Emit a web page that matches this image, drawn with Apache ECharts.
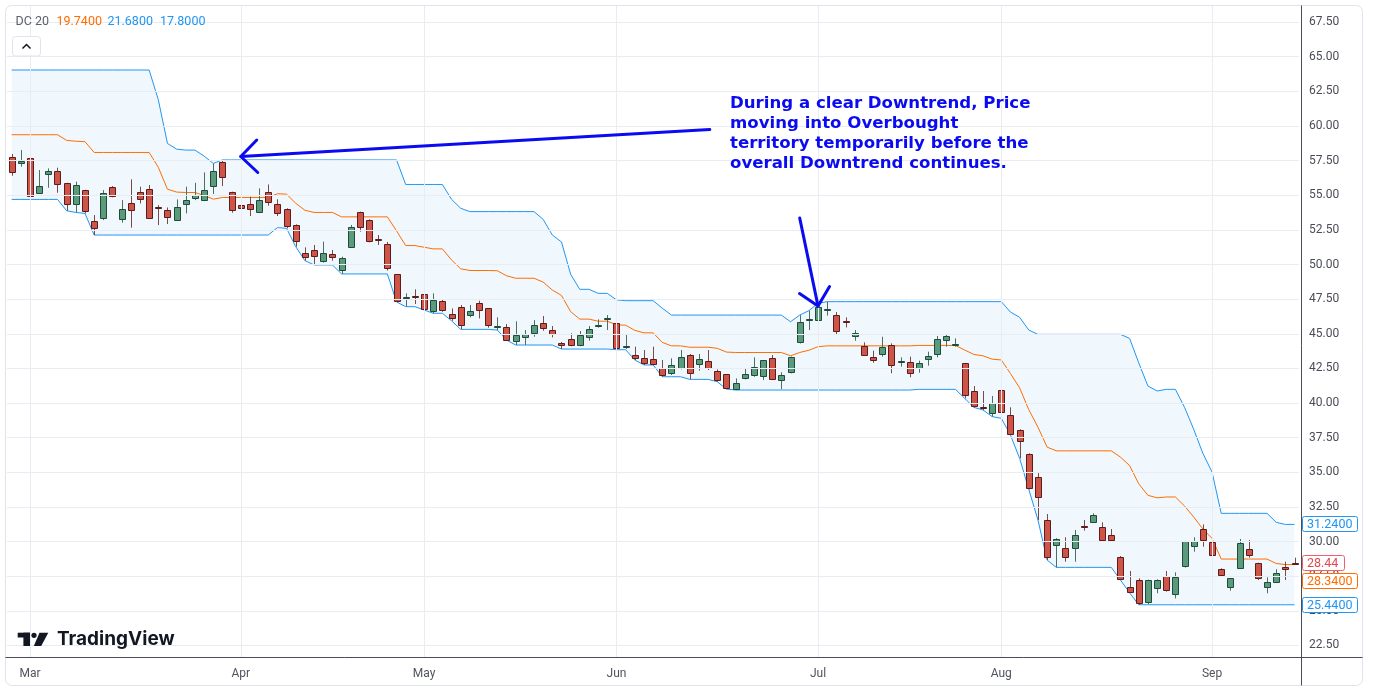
<!DOCTYPE html>
<html><head><meta charset="utf-8">
<script src="https://cdn.jsdelivr.net/npm/echarts@6/dist/echarts.min.js"></script>
<style>html,body{margin:0;padding:0;background:#fff}#c{width:1374px;height:690px}</style>
</head><body><div id="c"></div>
<script>
// ---- data ----
const opens = [57.78,57.30,57.66,55.18,56.51,56.72,55.86,54.34,55.35,53.14,
53.33,55.57,53.26,54.41,55.21,55.47,54.17,53.91,53.21,54.34,
54.77,54.65,55.62,57.37,55.21,54.27,54.35,53.77,55.26,54.35,
53.99,52.83,50.81,51.03,50.21,50.74,49.61,51.24,53.77,53.19,
51.85,51.46,49.29,47.63,47.73,47.85,46.65,47.39,46.40,46.91,
46.33,47.20,46.83,45.51,45.51,44.45,44.74,45.03,45.75,45.25,
44.33,44.60,44.16,44.74,45.58,46.11,45.75,44.07,43.44,43.25,
43.20,42.50,42.14,42.50,43.44,42.79,43.01,42.29,42.07,40.99,
41.78,41.99,41.90,43.23,41.64,42.22,44.38,46.04,45.97,46.79,
46.33,45.90,44.84,44.14,43.30,43.52,44.19,43.01,42.94,42.51,
43.16,43.52,44.53,44.21,42.87,40.85,39.69,39.26,40.92,39.11,
38.03,36.30,34.64,31.53,29.80,29.51,29.51,31.13,31.44,31.08,
30.45,28.89,26.70,27.20,25.59,26.63,27.49,26.27,28.19,29.71,
30.89,29.95,28.00,26.68,28.07,29.44,28.43,26.70,27.11,28.16,
28.47];
const closes = [56.70,57.47,54.89,55.66,56.72,55.78,54.34,55.71,53.81,52.66,
55.13,54.89,53.98,53.91,54.70,53.40,54.12,53.40,54.12,54.65,
54.99,55.35,56.72,56.29,53.88,54.03,53.96,54.64,54.56,53.70,
52.78,51.68,50.52,50.57,50.81,50.52,50.45,52.69,52.69,51.68,
51.80,49.73,47.35,47.66,47.70,46.79,47.42,46.76,46.11,45.61,
46.62,46.71,45.61,45.53,44.60,44.89,44.96,45.61,45.39,44.96,
44.16,44.16,44.89,45.32,45.60,46.13,43.92,44.09,43.20,42.87,
42.82,41.97,42.72,43.30,42.12,43.15,42.50,41.64,41.06,41.42,
42.07,42.58,43.08,41.71,42.00,43.30,45.82,46.06,46.91,46.81,
45.15,45.88,45.03,43.49,43.11,44.02,42.72,43.03,42.15,42.87,
43.37,44.60,44.84,44.23,40.53,39.74,39.67,39.98,39.33,37.74,
37.24,33.84,33.20,28.86,30.21,28.86,30.45,31.11,31.92,30.12,
30.09,27.28,26.34,25.54,27.20,27.20,26.46,27.47,30.02,30.07,
30.07,29.01,27.59,27.35,29.87,28.98,27.35,27.06,27.76,28.00,
28.44];
const lows = [56.41,57.06,54.85,55.15,55.54,55.18,53.88,53.76,53.69,52.13,
53.21,54.85,53.02,52.66,54.41,53.33,52.85,52.92,53.15,53.69,
54.65,54.58,55.09,55.66,53.74,53.17,53.50,53.72,54.25,53.50,
52.61,51.29,50.28,49.97,50.14,50.28,49.32,51.20,52.37,51.60,
51.41,49.56,47.30,46.96,47.15,46.72,46.48,46.59,45.94,45.32,
46.19,46.11,45.44,45.27,44.55,44.19,44.19,44.79,45.22,44.74,
43.90,44.10,44.10,44.50,45.44,45.27,43.85,43.90,43.11,42.75,
42.75,41.90,42.02,42.43,41.71,42.34,42.38,41.54,41.01,40.94,
41.71,41.90,41.66,41.66,40.99,42.14,44.30,45.27,45.58,46.31,
44.91,45.46,44.50,43.42,42.91,43.35,42.15,42.63,41.86,42.19,
42.70,43.30,44.07,44.07,40.34,39.69,39.50,39.02,38.90,37.69,
36.01,33.77,31.56,28.67,28.14,28.55,28.55,30.79,31.37,30.10,
29.99,27.23,26.30,25.44,25.49,26.27,26.39,25.90,28.12,29.27,
29.63,28.96,27.47,26.46,28.05,28.84,27.23,26.27,27.06,27.23,
28.31];
const highs = [57.98,58.26,57.83,56.82,56.94,56.99,55.90,55.98,55.40,53.57,
55.37,55.66,54.65,56.15,55.62,55.74,54.29,54.12,54.70,55.62,
55.90,56.65,57.30,57.55,55.26,54.47,54.90,55.50,55.78,54.71,
54.06,52.90,51.24,51.41,51.65,51.05,50.57,52.86,53.82,53.26,
52.13,51.63,49.30,47.92,48.21,47.92,47.92,47.45,46.83,47.08,
47.08,47.39,46.85,46.19,45.70,45.90,45.27,45.99,46.28,45.56,
44.41,45.03,45.20,45.56,46.04,46.35,45.87,44.98,44.07,43.83,
44.07,43.11,43.23,43.83,43.54,43.54,43.83,42.43,42.10,41.78,
42.50,43.30,43.11,43.47,42.22,43.35,46.35,46.67,47.20,47.32,
46.57,46.19,45.27,44.38,43.78,44.79,44.31,43.30,43.35,43.06,
43.71,44.84,44.96,44.67,42.90,41.23,40.87,40.51,40.99,39.69,
38.10,36.37,35.02,31.99,30.25,30.31,30.84,31.56,32.04,31.39,
30.91,28.96,27.88,27.35,27.25,27.28,27.88,27.78,30.05,30.31,
31.24,29.99,28.07,27.35,30.19,30.11,28.48,27.42,28.00,28.55,
28.84];
// Donchian channel (20)
const dcUpper = [64.04,64.04,64.04,64.04,64.04,64.04,64.04,64.04,64.04,64.04,
64.04,64.04,64.04,64.04,64.04,64.04,61.90,58.74,58.33,58.26,
58.26,57.83,57.30,57.55,57.55,57.55,57.55,57.55,57.55,57.55,
57.55,57.55,57.55,57.55,57.55,57.55,57.55,57.55,57.55,57.55,
57.55,57.55,57.55,55.78,55.78,55.78,55.78,55.78,54.71,54.06,
53.82,53.82,53.82,53.82,53.82,53.82,53.82,53.82,53.26,52.13,
51.63,49.30,48.21,48.21,47.92,47.92,47.45,47.39,47.39,47.39,
47.39,46.85,46.35,46.35,46.35,46.35,46.35,46.35,46.35,46.35,
46.35,46.35,46.35,46.35,46.35,45.87,46.35,46.67,47.20,47.32,
47.32,47.32,47.32,47.32,47.32,47.32,47.32,47.32,47.32,47.32,
47.32,47.32,47.32,47.32,47.32,47.32,47.32,47.32,47.32,46.57,
46.19,45.27,44.96,44.96,44.96,44.96,44.96,44.96,44.96,44.96,
44.96,44.96,44.67,42.90,41.23,40.87,40.99,40.99,39.69,38.10,
36.37,35.02,32.04,32.04,32.04,32.04,32.04,32.04,31.39,31.24,
31.24];
const dcLower = [54.70,54.70,54.70,54.70,54.70,54.70,53.88,53.76,53.69,52.13,
52.13,52.13,52.13,52.13,52.13,52.13,52.13,52.13,52.13,52.13,
52.13,52.13,52.13,52.13,52.13,52.13,52.13,52.13,52.13,52.66,
52.61,51.29,50.28,49.97,49.97,49.97,49.32,49.32,49.32,49.32,
49.32,49.32,47.30,46.96,46.96,46.72,46.48,46.48,45.94,45.32,
45.32,45.32,45.32,45.27,44.55,44.19,44.19,44.19,44.19,44.19,
43.90,43.90,43.90,43.90,43.90,43.90,43.85,43.85,43.11,42.75,
42.75,41.90,41.90,41.90,41.71,41.71,41.71,41.54,41.01,40.94,
40.94,40.94,40.94,40.94,40.94,40.94,40.94,40.94,40.94,40.94,
40.94,40.94,40.94,40.94,40.94,40.94,40.94,40.94,40.94,40.99,
40.99,40.99,40.99,40.99,40.34,39.69,39.50,39.02,38.90,37.69,
36.01,33.77,31.56,28.67,28.14,28.14,28.14,28.14,28.14,28.14,
28.14,27.23,26.30,25.44,25.44,25.44,25.44,25.44,25.44,25.44,
25.44,25.44,25.44,25.44,25.44,25.44,25.44,25.44,25.44,25.44,
25.44];
const dcMiddle = [59.37,59.37,59.37,59.37,59.37,59.37,58.96,58.90,58.87,58.09,
58.09,58.09,58.09,58.09,58.09,58.09,57.02,55.44,55.23,55.20,
55.20,54.98,54.72,54.84,54.84,54.84,54.84,54.84,54.84,55.11,
55.08,54.42,53.92,53.76,53.76,53.76,53.44,53.44,53.44,53.44,
53.44,53.44,52.43,51.37,51.37,51.25,51.13,51.13,50.33,49.69,
49.57,49.57,49.57,49.55,49.19,49.01,49.01,49.01,48.73,48.16,
47.77,46.60,46.06,46.06,45.91,45.91,45.65,45.62,45.25,45.07,
45.07,44.38,44.13,44.13,44.03,44.03,44.03,43.95,43.68,43.65,
43.65,43.65,43.65,43.65,43.65,43.41,43.65,43.81,44.07,44.13,
44.13,44.13,44.13,44.13,44.13,44.13,44.13,44.13,44.13,44.16,
44.16,44.16,44.16,44.16,43.83,43.51,43.41,43.17,43.11,42.13,
41.10,39.52,38.26,36.82,36.55,36.55,36.55,36.55,36.55,36.55,
36.55,36.10,35.49,34.17,33.34,33.16,33.22,33.22,32.57,31.77,
30.91,30.23,28.74,28.74,28.74,28.74,28.74,28.74,28.42,28.34,
28.34];
const monthLabels = ['Mar','Apr','May','Jun','Jul','Aug','Sep'];
const monthStartIdx = [2, 25, 45, 66, 88, 108, 131];
const yTicks = [22.5,25,27.5,30,32.5,35,37.5,40,42.5,45,47.5,50,52.5,55,57.5,60,62.5,65,67.5];
const legendValues = ['19.7400','21.6800','17.8000'];
const annotationLines = ['During a clear Downtrend, Price','moving into Overbought','territory temporarily before the','overall Downtrend continues.'];

// ---- build ----
const categories = opens.map((_, i) => String(i));
const candleRows = opens.map((o, i) => [i, o, closes[i], lows[i], highs[i]]);
const bandWidth = dcUpper.map((u, i) => +(u - dcLower[i]).toFixed(2));

const UP_FILL = '#5b9b7c', UP_LINE = '#1f4b3a', DN_FILL = '#cd5446', DN_LINE = '#5c1c1c';
const BLUE = '#2196f3', ORANGE = '#ff6d00', GRID = '#e9ecf1';

const chart = echarts.init(document.getElementById('c'), null, {renderer: 'canvas'});

function renderCandle(params, api) {
  const i = api.value(0), o = api.value(1), c = api.value(2), lo = api.value(3), hi = api.value(4);
  const pO = api.coord([i, o]), pC = api.coord([i, c]), pL = api.coord([i, lo]), pH = api.coord([i, hi]);
  const w = Math.round(api.size([1, 0])[0] * 0.64);
  const up = c >= o;
  const rx = Math.round(pO[0] - w / 2) + 0.5;
  const cx = rx + w / 2;
  const top = Math.round(Math.min(pO[1], pC[1])) + 0.5;
  const h = Math.max(1, Math.round(Math.abs(pO[1] - pC[1])));
  return {
    type: 'group',
    children: [
      {type: 'line', shape: {x1: cx, y1: pH[1], x2: cx, y2: pL[1]}, style: {stroke: up ? '#4d6f62' : '#7a4a46', lineWidth: 1}},
      {type: 'rect', shape: {x: rx, y: top, width: w, height: h}, style: {fill: up ? UP_FILL : DN_FILL, stroke: up ? UP_LINE : DN_LINE, lineWidth: 1}}
    ]
  };
}

const gridMarks = yTicks.map(v => ({yAxis: v})).concat(monthStartIdx.map(i => ({xAxis: i})));

chart.setOption({
  animation: false,
  backgroundColor: '#ffffff',
  grid: {left: 7.1, right: 74.9, top: 5, bottom: 32.3, containLabel: false},
  xAxis: {
    type: 'category', data: categories, boundaryGap: true,
    axisLine: {show: false}, axisTick: {show: false}, splitLine: {show: false},
    axisLabel: {
      interval: (idx) => monthStartIdx.indexOf(idx) >= 0,
      formatter: (val, idx) => { const k = monthStartIdx.indexOf(idx); return k >= 0 ? monthLabels[k] : ''; },
      color: '#50535e', fontSize: 12, fontFamily: 'Roboto', margin: 10
    }
  },
  yAxis: {
    type: 'value', position: 'right', min: 21.619, max: 68.734, scale: true,
    axisLine: {show: false}, axisTick: {show: false}, splitLine: {show: false},
    axisLabel: {customValues: yTicks, formatter: v => v.toFixed(2), color: '#4a4d57', fontSize: 12, fontFamily: 'Roboto', margin: 10, padding: [4, 0, 0, 0]}
  },
  series: [
    {type: 'line', name: 'base', data: dcLower, stack: 'dc', symbol: 'none', silent: true, z: 1,
     lineStyle: {opacity: 0}, emphasis: {disabled: true},
     markLine: {silent: true, symbol: 'none', label: {show: false}, emphasis: {disabled: true},
       lineStyle: {color: GRID, width: 1, type: 'solid'}, data: gridMarks, animation: false}},
    {type: 'line', name: 'band', data: bandWidth, stack: 'dc', symbol: 'none', silent: true, z: 1,
     lineStyle: {opacity: 0}, areaStyle: {color: 'rgba(33,150,243,0.065)', opacity: 1}, emphasis: {disabled: true}},
    {type: 'line', name: 'upper', data: dcUpper, symbol: 'none', silent: true, z: 2, lineStyle: {color: BLUE, width: 1}, emphasis: {disabled: true}},
    {type: 'line', name: 'lower', data: dcLower, symbol: 'none', silent: true, z: 2, lineStyle: {color: BLUE, width: 1}, emphasis: {disabled: true}},
    {type: 'line', name: 'basis', data: dcMiddle, symbol: 'none', silent: true, z: 2, lineStyle: {color: ORANGE, width: 1}, emphasis: {disabled: true}},
    {type: 'custom', name: 'price', data: candleRows, renderItem: renderCandle, encode: {x: 0, y: [1, 2, 3, 4]}, z: 3, silent: true}
  ]
});

// ---- overlay graphics ----
const toPx = (i, v) => chart.convertToPixel({xAxisIndex: 0, yAxisIndex: 0}, [i, v]);
const yPx = v => chart.convertToPixel({yAxisIndex: 0}, v);
const last = opens.length - 1;
const g = [];
const AX = '#4a4d57';
// frame and axis separators
g.push({type: 'rect', z: 50, shape: {x: 5.5, y: 5.5, width: 1357, height: 680, r: 6}, style: {fill: null, stroke: '#e0e3eb', lineWidth: 1}});
g.push({type: 'line', z: 50, shape: {x1: 5.5, y1: 657.5, x2: 1362.5, y2: 657.5}, style: {stroke: AX, lineWidth: 1}});
g.push({type: 'line', z: 50, shape: {x1: 1301.5, y1: 5.5, x2: 1301.5, y2: 685.5}, style: {stroke: AX, lineWidth: 1}});

function tag(val, text, color, width, dy, textColor) {
  const y = Math.round(yPx(val) + dy);
  g.push({type: 'rect', z: 60, shape: {x: 1302.5, y: y - 7.5, width: width, height: 15, r: 2}, style: {fill: '#ffffff', stroke: color, lineWidth: 1}});
  g.push({type: 'text', z: 61, style: {x: 1307, y: y + 1, text: text, fill: textColor || color, font: '12.5px Roboto', verticalAlign: 'middle', align: 'left'}});
}
tag(dcUpper[last], dcUpper[last].toFixed(4), BLUE, 55, 0);
tag(closes[last], closes[last].toFixed(2), '#f0606a', 42, 0, '#e0494f');
tag(dcMiddle[last], dcMiddle[last].toFixed(4), ORANGE, 55, 16);
tag(dcLower[last], dcLower[last].toFixed(4), BLUE, 55, 0);

// legend
const LF = '12.5px Roboto';
g.push({type: 'text', z: 60, style: {x: 15.5, y: 22, text: 'DC 20', fill: '#5d606b', font: LF, verticalAlign: 'middle'}});
g.push({type: 'text', z: 60, style: {x: 56.5, y: 22, text: legendValues[0], fill: ORANGE, font: LF, verticalAlign: 'middle'}});
g.push({type: 'text', z: 60, style: {x: 107.5, y: 22, text: legendValues[1], fill: BLUE, font: LF, verticalAlign: 'middle'}});
g.push({type: 'text', z: 60, style: {x: 160, y: 22, text: legendValues[2], fill: BLUE, font: LF, verticalAlign: 'middle'}});
// collapse button
g.push({type: 'rect', z: 60, shape: {x: 12.5, y: 36.5, width: 28, height: 19.5, r: 3}, style: {fill: '#ffffff', stroke: '#e0e3eb', lineWidth: 1}});
g.push({type: 'polyline', z: 61, shape: {points: [[22.5, 48.5], [26.5, 44.5], [30.5, 48.5]]}, style: {stroke: '#131722', lineWidth: 1.5, fill: null}});

// TradingView logo
g.push({type: 'rect', z: 60, shape: {x: 17.7, y: 632.7, width: 12.3, height: 4.8}, style: {fill: '#131722'}});
g.push({type: 'rect', z: 60, shape: {x: 23.4, y: 632.7, width: 6.6, height: 13.3}, style: {fill: '#131722'}});
g.push({type: 'circle', z: 60, shape: {cx: 34, cy: 635.3, r: 2.6}, style: {fill: '#131722'}});
g.push({type: 'polygon', z: 60, shape: {points: [[39.5, 632.7], [48.3, 632.7], [41.2, 646], [33.8, 646]]}, style: {fill: '#131722'}});
g.push({type: 'text', z: 60, style: {x: 57, y: 639.5, text: 'TradingView', fill: '#131722', font: 'bold 19px Inter', verticalAlign: 'middle'}});

// annotation
const ANN = '#0b0bf2';
g.push({type: 'text', z: 70, style: {x: 730, y: 94, text: annotationLines.join('\n'), fill: ANN, font: 'bold 16.6px "DejaVu Sans"', lineHeight: 20, verticalAlign: 'top', align: 'left'}});
const t1 = toPx(25, 57.8);
g.push({type: 'line', z: 70, shape: {x1: t1[0] + 469, y1: t1[1] - 27, x2: t1[0], y2: t1[1]}, style: {stroke: ANN, lineWidth: 3, lineCap: 'round'}});
g.push({type: 'polyline', z: 70, shape: {points: [[t1[0] + 16, t1[1] - 16.5], [t1[0], t1[1]], [t1[0] + 17, t1[1] + 16]]}, style: {stroke: ANN, lineWidth: 3, lineCap: 'round', lineJoin: 'round', fill: null}});
const t2 = toPx(88, 47.0);
g.push({type: 'line', z: 70, shape: {x1: t2[0] - 18.3, y1: t2[1] - 88, x2: t2[0], y2: t2[1]}, style: {stroke: ANN, lineWidth: 3, lineCap: 'round'}});
g.push({type: 'polyline', z: 70, shape: {points: [[t2[0] - 18.5, t2[1] - 12.5], [t2[0], t2[1]], [t2[0] + 11.5, t2[1] - 19.5]]}, style: {stroke: ANN, lineWidth: 3, lineCap: 'round', lineJoin: 'round', fill: null}});

chart.setOption({graphic: {elements: g}});
</script>
</body></html>
